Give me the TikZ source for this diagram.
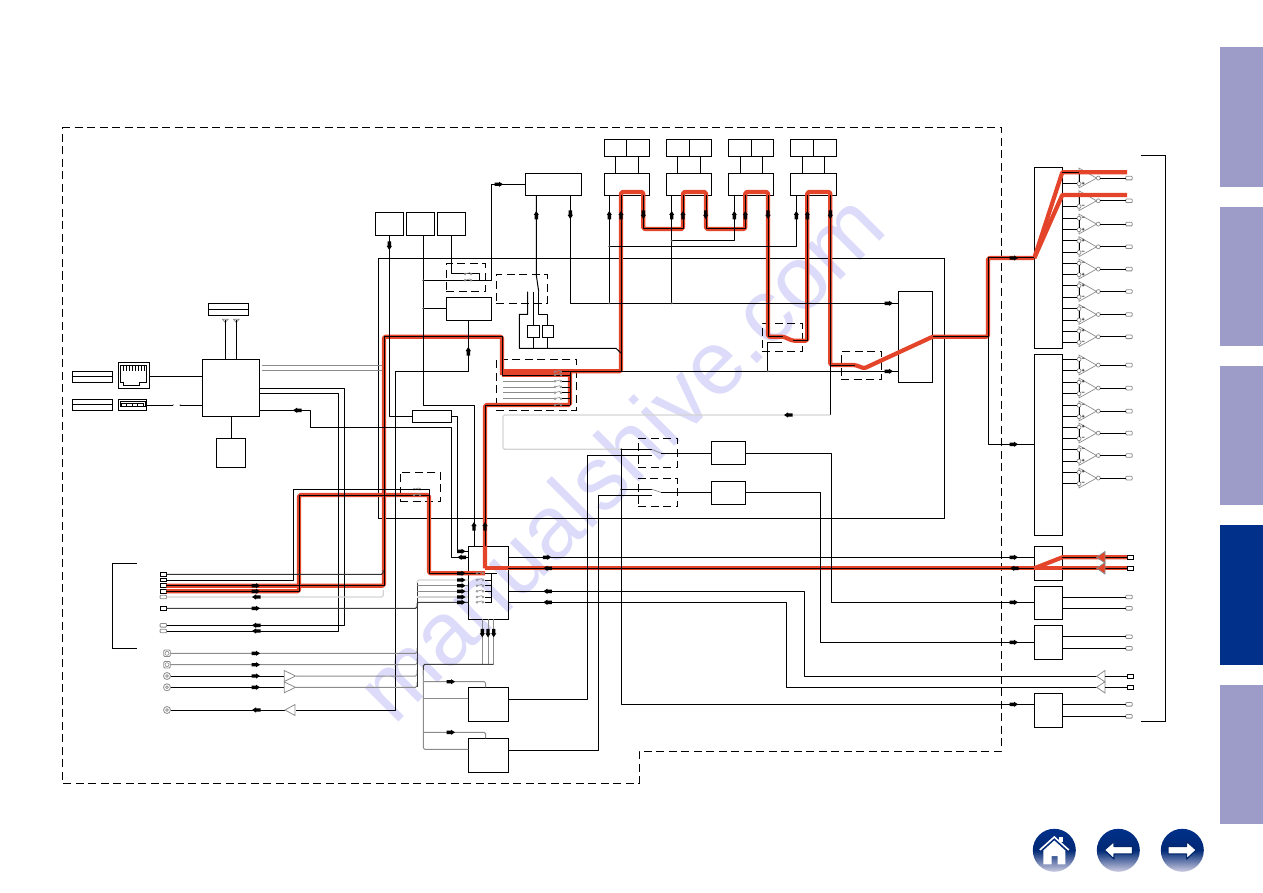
\documentclass[tikz,border=0pt]{standalone}
\usepackage{fontspec}
\setmainfont{Liberation Sans}
\usetikzlibrary{calc}
\definecolor{bandred}{HTML}{E4452A}
\definecolor{lav}{HTML}{9D9BC7}
\definecolor{navy}{HTML}{00308A}
\definecolor{mark}{HTML}{DCDCFA}
\definecolor{gw}{HTML}{8C8C8C}
\definecolor{lgw}{HTML}{D4D4D4}
\tikzset{
  x=1pt,y=-1pt,
  boxn/.style={draw=black,line width=1pt,inner sep=0pt,outer sep=0pt},
  dbox/.style={boxn,line width=.9pt,dash pattern=on 8pt off 4.5pt},
  wire/.style={draw=black,line width=1pt,line join=round},
  gwire/.style={draw=gw,line width=1pt,rounded corners=1.5pt},
  lwire/.style={draw=lgw,line width=1.2pt,rounded corners=1.5pt},
  band/.style={draw=bandred,line width=4.2pt,rounded corners=1.5pt,line join=round},
  term/.style={draw=black,line width=.9pt,fill=white,inner sep=0pt,outer sep=0pt,minimum width=6pt,minimum height=3.6pt},
  termg/.style={draw=gw,line width=.8pt,fill=white,inner sep=0pt,outer sep=0pt,minimum width=6.4pt,minimum height=3.6pt,rounded corners=.8pt},
  pin/.style={circle,draw=gw,line width=.7pt,fill=white,inner sep=0pt,outer sep=0pt,minimum size=4pt},
  coax/.style={circle,draw=gw,line width=.8pt,fill=white,inner sep=0pt,outer sep=0pt,minimum size=7pt},
  optc/.style={draw=gw,line width=.8pt,fill=white,inner sep=0pt,outer sep=0pt,minimum size=6.5pt,rounded corners=1pt},
  sgn/.style={font=\fontsize{5.5}{5.5}\selectfont\bfseries,inner sep=0pt},
  tabn/.style={inner sep=0pt,outer sep=0pt},
  navb/.style={circle,inner sep=0pt,outer sep=0pt,minimum size=43pt,top color=navy,bottom color=lav!50,middle color=navy!85!black}
}
% box given by its two corners
\newcommand\bx[6][boxn]{\node[#1,anchor=north west,minimum width={(#5-#3)*1pt},minimum height={(#6-#4)*1pt}] (#2) at (#3,#4) {};}
% direction mark on a line: x, y, angle
\newcommand\ar[3]{\fill[black,shift={(#1,#2)},rotate=#3] (-4.5,-1.7)--(0,-1.7)--(0,-2.6)--(4,0)--(0,2.6)--(0,1.7)--(-4.5,1.7)--cycle;}
% switch contacts on a line
\newcommand\sw[2]{\draw[gw,line width=.6pt] (#1,#2) circle (1pt) (#1+6,#2) circle (1pt) (#1+1,#2-.3)--(#1+5,#2-1.4);}
% junction dot
\newcommand\jn[2]{\fill[black!70] (#1,#2) circle (1.1pt);}
\begin{document}
\begin{tikzpicture}
\useasboundingbox (0,0) rectangle (1263,893);
\fill[white] (0,0) rectangle (1263,893);
% diagonal site mark
\node[text=mark,font=\fontsize{90}{90}\selectfont,rotate=45,inner sep=0pt,anchor=base] (site) at (642,479) {manualshive.com};

% section tabs
\bx[tabn,fill=lav]{tab1}{1220}{47}{1263}{187}
\bx[tabn,fill=lav]{tab2}{1220}{207}{1263}{346}
\bx[tabn,fill=lav]{tab3}{1220}{366}{1263}{505}
\bx[tabn,fill=navy]{tab4}{1220}{525}{1263}{665}
\bx[tabn,fill=lav]{tab5}{1220}{685}{1263}{824}

% enclosure and brackets
\draw[line width=.9pt,dash pattern=on 8pt off 4.5pt] (62,127) -- (1001,127) -- (1001,751) -- (639,751) -- (639,783) -- (62,783) -- cycle;
\draw[line width=1pt] (1141,156) -- (1165,156) -- (1165,721) -- (1141,721);
\draw[line width=1pt] (137,563.3) -- (112.7,563.3) -- (112.7,648.3) -- (137,648.3);
\bx{frame}{378.7}{258.3}{944}{518.3}

% left network section
\bx{lbA}{208}{303}{248}{315}
\bx{lbB}{72}{371}{112.7}{382.3}
\bx{lbC}{72}{399.3}{112.7}{410.3}
\draw[line width=1pt] (lbA.west) -- (lbA.east) (lbB.west) -- (lbB.east) (lbC.west) -- (lbC.east);
\bx{rj}{118.3}{362.3}{149.7}{388.7}
\draw[line width=.9pt] (120.3,365) -- (146.7,365) -- (146.7,382.7) -- (139,382.7) -- (139,385.7) -- (123.3,385.7) -- (123.3,382.7) -- (120.3,382.7) -- cycle;
\foreach \px in {123,126,129,132,135,138,141,144} \draw[line width=.8pt] (\px,365) -- (\px,370.5);
\bx{usb}{118.3}{399.3}{146.7}{410.3}
\draw[line width=.9pt] (120,401.3) rectangle (145,406);
\foreach \px in {121,126.5,132,137.5} \draw[line width=.6pt,fill=white] (\px,403.6) rectangle (\px+5.5,405.8);
\bx{net}{202.3}{359.3}{259.7}{416.7}
\bx{mem}{216.3}{438.3}{245.7}{467.7}
\coordinate (antA) at (225.3,320);
\coordinate (antB) at (236.3,320);
\foreach \a in {antA,antB} \draw[gw,line width=.8pt] ($(\a)+(-2.8,-.8)$) -- ($(\a)+(2.8,-.8)$) -- ($(\a)+(0,2.5)$) -- cycle;

% top row of boxes
\bx{u1}{375.3}{212.3}{403.7}{235.3}
\bx{u2}{406.3}{212.3}{434.3}{235.3}
\bx{u3}{437.3}{212.3}{465.3}{235.3}
\bx{dsp}{525.3}{173.3}{581.3}{195.3}
\bx{a1}{604.3}{173.3}{649.7}{195.3}
\bx{a2}{666.3}{173.3}{711.7}{195.3}
\bx{a3}{728.3}{173.3}{773.7}{195.3}
\bx{a4}{790.3}{173.3}{836.7}{195.3}
\bx{b1l}{604.3}{139.3}{626.3}{156.3}
\bx{b1r}{626.3}{139.3}{649.7}{156.3}
\bx{b2l}{666.3}{139.3}{689.3}{156.3}
\bx{b2r}{689.3}{139.3}{711.7}{156.3}
\bx{b3l}{728.3}{139.3}{751.3}{156.3}
\bx{b3r}{751.3}{139.3}{773.7}{156.3}
\bx{b4l}{790.3}{139.3}{813.3}{156.3}
\bx{b4r}{813.3}{139.3}{836.7}{156.3}

% centre section
\bx[dbox]{dA}{446.3}{263.7}{485.7}{291.3}
\bx{cpu}{446.3}{297.3}{491.3}{320.3}
\bx[dbox]{dB}{496.3}{274.3}{547.3}{303.3}
\bx{smA}{527.3}{325.3}{539.3}{337.3}
\bx{smB}{542.3}{325.3}{553.7}{337.3}
\bx[dbox]{dC}{496.3}{359.3}{576.7}{410}
\bx{lat}{412.3}{410.3}{451.7}{422.3}
\bx[dbox]{dD}{400}{472.3}{440.7}{501.3}
\bx[dbox]{dE}{762.3}{323.3}{802.3}{351.3}
\bx[dbox]{dF}{841.3}{351.3}{881.7}{379.3}
\bx{dac}{898.3}{291.3}{932.7}{382.3}
\bx[dbox]{dG}{638.3}{438.3}{677.7}{467.3}
\bx[dbox]{dH}{638.3}{478.3}{677.7}{506.7}
\bx{sA}{711.3}{441.3}{745.7}{464.3}
\bx{sB}{711.3}{481.3}{745.7}{504.3}
\bx{hub}{468.3}{546.3}{508.3}{619.3}
\bx{enA}{468.3}{687.3}{508.3}{721.3}
\bx{enB}{468.3}{738.3}{508.3}{772.3}

% right column
\bx{mdA}{1034.3}{167.3}{1062.3}{348.3}
\bx{mdB}{1034.3}{354.3}{1062.3}{535.3}
\bx{rP}{1034.3}{546.3}{1062.3}{580.3}
\bx{rQ}{1034.3}{586.3}{1062.3}{619.3}
\bx{rR}{1034.3}{625.3}{1062.3}{659.3}
\bx{rS}{1034.3}{693.3}{1062.3}{727.3}

% rear input terminals
\node[term] (tL1) at (163.3,574.3) {};
\node[term] (tL2) at (163.3,580) {};
\node[term] (tL3) at (163.3,585.7) {};
\node[term] (tL4) at (163.3,591.3) {};
\node[termg] (tL5) at (163.3,597) {};
\node[term] (tL6) at (163.3,608.3) {};
\node[termg] (tL7) at (163.3,625.3) {};
\node[termg] (tL8) at (163.3,631) {};
\node[optc] (tC1) at (167,653.3) {};
\node[optc] (tC2) at (167,664.7) {};
\node[coax] (tC3) at (167,676) {};
\node[coax] (tC4) at (167,687.3) {};
\node[coax] (tC5) at (167,710) {};
\foreach \c in {tC1,tC2} \draw[gw,line width=.6pt] (\c) circle (2pt);
\foreach \c in {tC3,tC4,tC5} \draw[gw,line width=.7pt] (\c) circle (1.4pt);
\coordinate (busT) at (417.3,580);

% right-hand terminals
\node[term] (tR1) at (1130,557.3) {};
\node[term] (tR2) at (1130,568.3) {};
\node[termg] (tR3) at (1129,597) {};
\node[termg] (tR4) at (1129,608.3) {};
\node[termg] (tR5) at (1129,636.7) {};
\node[termg] (tR6) at (1129,648.3) {};
\node[term] (tR7) at (1130,676.3) {};
\node[term] (tR8) at (1130,687.3) {};
\node[termg] (tR9) at (1129,704.3) {};
\node[termg] (tR10) at (1129,716.3) {};

% output amplifier pairs
\foreach \y/\sa/\sb/\n in {172.3/−/+/a0,195/−/−/a1,218.3/−/+/a2,241/+/−/a3,263.3/−/+/a4,285.7/+/−/a5,308.7/−/+/a6,331/+/−/a7,359.3/−/+/b0,382.3/+/−/b1,405.3/−/+/b2,427.3/+/−/b3,449.7/−/+/b4,472.3/+/−/b5}{
  \pgfmathsetmacro\yb{\y+11.4}
  \pgfmathsetmacro\ym{\y+5.8}
  \pgfmathsetmacro\yt{\y-4.2}
  \pgfmathsetmacro\ye{\yb+4.2}
  \draw[gw,line width=.7pt] (1079,\yt) -- (1096.5,\ym) -- (1079,\ye) -- cycle;
  \node[pin] (pa\n) at (1079,\y) {};
  \node[pin] (pb\n) at (1079,\yb) {};
  \node[pin] (po\n) at (1098.3,\ym) {};
  \node[termg] (ta\n) at (1129,\ym) {};
  \node[sgn] at (1083.3,\y) {\sa};
  \node[sgn] at (1083.3,\yb) {\sb};
  \draw[wire] (mdA.east |- pa\n) -- (pa\n);
  \draw[wire] (mdA.east |- pb\n) -- (pb\n);
  \draw[wire] (pa\n) -- (pb\n);
  \draw[wire] (po\n) -- (ta\n);
}

% highlighted signal route
\coordinate (jR) at (485,568.3);
\coordinate (jS) at (570,371.3);
\fill[bandred] (502,369.3) rectangle (570,377.2);
\draw[band] (tL3.east) -- (384,585.7) -- (384,336.7) -- (502,336.7) -- (502,375);
\draw[band] (tL4.east) -- (299,591.3) -- (299,495) -- (429,495) -- (429,573.3) -- (485,573.3);
\draw[band] (jR) -- (485,405) -- (570,405) -- (jS);
\draw[band] (jR) -- (rP.west |- jR);
\draw[band] (jS) -- (621,371.3) -- (621,192) -- (643.3,192) -- (643.3,229) -- (683,229) -- (683,192) -- (706,192) -- (706,229) -- (745.3,229) -- (745.3,192) -- (768,192) -- (768,336.7) -- (783.3,336.7) -- (792.7,340.7) -- (807.3,340.7) -- (807.3,192) -- (830.3,192) -- (830.3,365) -- (855,365) -- (864.3,368.3) -- (dac.east |- 0,336.7) -- (988,336.7) -- (988,258) -- (mdA.west |- 0,258);
\draw[band,rounded corners=.5pt] (mdA.west |- 0,258) -- (1062.3,172.3) -- (1127,172.3);
\draw[band,rounded corners=.5pt] (mdA.west |- 0,258) -- (1062.3,195) -- (1127,195);
\draw[band,rounded corners=.5pt] (rP.west |- jR) -- (1062.3,557.3) -- (tR1.west);
\draw[band] (rP.west |- jR) -- (tR2.west);

% wires within the highlighted route
\draw[wire] (tL3.east) -- (384,585.7) -- (384,336.7) -- (502,336.7) -- (502,375) -- (570,375);
\draw[wire] (tL4.east) -- (299,591.3) -- (299,495) -- (429,495) -- (429,573.3) -- (480,573.3);
\draw[wire] (hub.north -| 485,0) -- (485,405) -- (570,405);
\draw[wire] (hub.east |- jR) -- (rR.west |- jR);
\draw[wire] (570,371.3) -- (570,405);
\draw[wire] (jS) -- (621,371.3) -- (a1.south -| 621,0);
\draw[wire] (a1.south -| 643.3,0) -- (643.3,229) -- (683,229) -- (a2.south -| 683,0);
\draw[wire] (a2.south -| 706,0) -- (706,229) -- (745.3,229) -- (a3.south -| 745.3,0);
\draw[wire] (a3.south -| 768,0) -- (768,336.7) -- (783.3,336.7);
\draw[wire] (792.7,340.7) -- (807.3,340.7) -- (a4.south -| 807.3,0);
\draw[wire] (a4.south -| 830.3,0) -- (830.3,415);
\draw[wire] (830.3,365) -- (855,365);
\draw[wire] (dac.east |- 0,336.7) -- (988,336.7) -- (988,444.3) -- (mdB.west |- 0,444.3);
\draw[wire] (988,336.7) -- (988,258) -- (mdA.west |- 0,258);
\draw[wire] (1062.3,172.3) -- (1079,172.3);
\draw[wire] (1062.3,557.3) -- (tR1.west);
\draw[wire] (rP.east |- jR) -- (tR2.west);

% network wiring
\draw[wire] (net.north -| antA) -- (antA);
\draw[wire] (net.north -| antB) -- (antB);
\draw[wire] (rj.east |- 0,376.3) -- (net.west |- 0,376.3);
\draw[wire] (usb.east |- 0,405.3) -- (173,405.3);
\draw[wire] (179.5,405.3) -- (net.west |- 0,405.3);
\draw[gw,line width=.7pt] (173,404.3) -- (174,405.3) (179.5,405.3) -- (180.5,404.3);
\draw[wire] (net.south -| mem.north) -- (mem.north);
\draw[gwire] (net.east |- 0,365.3) ++(2,0) -- (382,365.3);
\draw[gwire] (net.east |- 0,370.3) ++(2,0) -- (382,370.3);
\draw[wire] (net.east |- 0,388.7) -- (344.3,388.7) -- (344.3,625.3) -- (tL7.east);
\draw[wire] (net.east |- 0,393.3) -- (338.3,393.3) -- (338.3,631) -- (tL8.east);
\draw[wire] (net.east |- 0,410.3) -- (310.3,410.3) -- (310.3,427) -- (451.7,427) -- (451.7,557.3) -- (hub.west |- 0,557.3);
\draw[wire] (lat.east |- 0,416) -- (457.3,416) -- (457.3,551.3) -- (hub.west |- 0,551.3);
\draw[wire] (u1.south -| 389.3,0) -- (389.3,416.7) -- (lat.west |- 0,416.7);
\draw[wire] (u2.south -| 423.3,0) -- (423.3,405.3) -- (474.7,405.3) -- (hub.north -| 474.7,0);
\draw[wire] (u3.south -| 451.3,0) -- (451.3,274) -- (479.3,274) -- (479.3,280.3);
\draw[wire] (423.3,280.3) -- (491.3,280.3) -- (491.3,184.3) -- (dsp.west |- 0,184.3);
\draw[wire] (423.3,308.3) -- (cpu.west |- 0,308.3);
\draw[wire] (cpu.south -| 468.3,0) -- (468.3,371) -- (395.3,371) -- (395.3,710) -- (296,710);

% source selector and convertor wiring
\draw[wire] (dsp.south -| 536.3,0) -- (536.3,275) -- (538.7,291.7);
\draw[wire] (527.7,291.7) -- (527.7,314.3) -- (519.3,314.3) -- (519.3,348.3) -- (616,348.3) -- (621,353);
\draw[wire] (533.3,291.7) -- (smA.north -| 533.3,0);
\draw[wire] (538.7,291.7) -- (538.7,314.3) -- (547.7,314.3) -- (smB.north -| 547.7,0);
\draw[wire] (smA.south -| 533.3,0) -- (533.3,348.3);
\draw[wire] (smB.south -| 547.7,0) -- (547.7,348.3);
\draw[wire] (dsp.south -| 570.3,0) -- (570.3,303.3) -- (dac.west |- 0,303.3);
\draw[wire] (a1.south -| 609.3,0) -- (609.3,303.3);
\draw[wire] (a2.south -| 671.7,0) -- (671.7,303.3);
\draw[wire] (609.3,246.3) -- (796.3,246.3) -- (a4.south -| 796.3,0);
\draw[wire] (671.7,240.7) -- (734.3,240.7) -- (a3.south -| 734.3,0);
\draw[wire] (621,371.3) -- (dac.west |- 0,371.3);
\draw[wire] (767.7,371.3) -- (767.7,342) -- (782,342);
\draw[lwire] (830.3,415) -- (503,415) -- (503,449.3) -- (620.7,449.3);
\draw[wire] (a1.north -| 615.3,0) -- (b1l.south -| 615.3,0);
\draw[wire] (a1.north -| 638.3,0) -- (b1r.south -| 638.3,0);
\draw[wire] (a2.north -| 677.7,0) -- (b2l.south -| 677.7,0);
\draw[wire] (a2.north -| 700.7,0) -- (b2r.south -| 700.7,0);
\draw[wire] (a3.north -| 740.3,0) -- (b3l.south -| 740.3,0);
\draw[wire] (a3.north -| 762.3,0) -- (b3r.south -| 762.3,0);
\draw[wire] (a4.north -| 802.3,0) -- (b4l.south -| 802.3,0);
\draw[wire] (a4.north -| 824.3,0) -- (b4r.south -| 824.3,0);
\jn{423.3}{280.3}
\jn{423.3}{308.3}
\jn{609.3}{246.3}
\jn{671.7}{240.7}
\jn{609.3}{303.3}
\jn{671.7}{303.3}
\jn{767.7}{371.3}
\jn{621.3}{449.3}
\jn{621.3}{489.3}

% selector fan inside the dashed group
\draw[gwire] (503,381.3) -- (554,381.3);
\draw[gwire] (503,387) -- (554,387);
\draw[gwire] (503,392.7) -- (554,392.7);
\draw[gwire] (503,398.7) -- (554,398.7);
\foreach \yy in {371.7,375,381.3,387,392.7,398.7,405} {\sw{555}{\yy} \draw[wire] (562,\yy) -- (570,\yy);}
\sw{414}{489.3} \sw{414}{495}
\sw{465}{274} \sw{465}{280.3}

% rear input wiring
\draw[draw=black!80,line width=1pt,rounded corners=1.5pt] (tL1.east) -- (383,574.3) -- (383,570);
\draw[wire] (tL2.east) -- (293.3,580) -- (293.3,489.3) -- (429,489.3) -- (429,495);
\draw[lwire] (tL5.east) -- (383.3,597) -- (383.3,590);
\draw[draw=black!75,line width=1pt,rounded corners=1.5pt] (tL6.east) -- (417,608.3) -- (417,602.3) -- (hub.west |- 0,602.3);
\draw[gwire] (tC1.east) -- (417,653.3) -- (417,648);
\draw[gwire] (tC2.east) -- (417,664.7) -- (417,658);
\draw[gwire] (296,676) -- (417,676) -- (417,670);
\draw[gwire] (296,687.3) -- (417,687.3) -- (417,682);
\draw[wire] (tC3.east) -- (284.3,676);
\draw[wire] (tC4.east) -- (284.3,687.3);
\draw[wire] (tC5.east) -- (285,710);
\draw[gw,line width=.8pt,fill=white] (284.3,670.5) -- (295.5,676) -- (284.3,681.5) -- cycle;
\draw[gw,line width=.8pt,fill=white] (284.3,682) -- (295.5,687.3) -- (284.3,692.7) -- cycle;
\draw[gw,line width=.8pt,fill=white] (295,704.5) -- (285,710) -- (295,715.5) -- cycle;
\draw[draw=black!80,line width=1pt] (417,687) -- (417,582);
\draw[lwire] (busT) ++(0,3) -- (417.3,580) -- (hub.west |- 0,580);
\draw[gwire] (417.3,585.7) -- (hub.west |- 0,585.7);
\draw[gwire] (417.3,591.3) -- (hub.west |- 0,591.3);
\draw[lwire] (417.3,597) -- (hub.west |- 0,597);
\foreach \yy in {573.3,580,585.7,591.3,597,602.3} {\sw{477}{\yy} \draw[line width=.9pt] (485,\yy) -- (491.7,\yy);}
\draw[wire] (491.7,573.3) -- (491.7,602.3);
\draw[wire] (491.7,573.3) -- (496.7,573.3);

% encoder feeds under the hub
\draw[gwire] (hub.south -| 482.3,0) -- (482.3,664.3);
\draw[gwire] (hub.south -| 488,0) -- (488,664.3);
\draw[gwire] (hub.south -| 493.7,0) -- (493.7,664.3);
\draw[draw=black!75,line width=1pt,rounded corners=1.5pt] (493.7,664.3) -- (423.3,664.3) -- (423.3,675);
\draw[gwire] (423.3,670) -- (423.3,749.3) -- (enB.west |- 0,749.3);
\draw[gwire] (423.3,681.7) -- (485.7,681.7) -- (enA.north -| 485.7,0);
\draw[gwire] (423.3,698.3) -- (enA.west |- 0,698.3);
\draw[gwire] (423.3,732.3) -- (485.7,732.3) -- (enB.north -| 485.7,0);
\draw[wire] (enA.east |- 0,699.3) -- (587.3,699.3) -- (587.3,455.3) -- (651.7,455.3);
\draw[wire] (enB.east |- 0,750.3) -- (598.7,750.3) -- (598.7,495.3) -- (651.7,495.3);
\draw[wire] (620.7,449.3) -- (651.7,449.3);
\draw[wire] (621.3,449.3) -- (621.3,704.3) -- (rS.west |- 0,704.3);
\draw[wire] (621.3,489.3) -- (651.7,489.3);
\draw[gw,line width=.7pt] (651.7,449.3) -- (661,453.3);
\draw[gw,line width=.7pt] (651.7,489.3) -- (661,492.3);
\draw[wire] (661,453.3) -- (sA.west |- 0,453.3);
\draw[wire] (661,492.3) -- (sB.west |- 0,492.3);
\draw[wire] (sA.east |- 0,453.3) -- (831,453.3) -- (831,602.3) -- (rQ.west |- 0,602.3);
\draw[wire] (sB.east |- 0,492.3) -- (820,492.3) -- (820,642.3) -- (rR.west |- 0,642.3);

% hub to right column
\draw[wire] (hub.east |- 0,557.3) -- (rP.west |- 0,557.3);
\draw[wire] (hub.east |- 0,591.3) -- (804,591.3) -- (804,676.3) -- (1097,676.3);
\draw[wire] (hub.east |- 0,602.3) -- (786,602.3) -- (786,687.3) -- (1097,687.3);
\draw[gw,line width=.8pt,fill=white] (1105,670.5) -- (1096.7,676.3) -- (1105,682) -- cycle;
\draw[gw,line width=.8pt,fill=white] (1105,681.7) -- (1096.7,687.3) -- (1105,693) -- cycle;
\draw[wire] (1105,676.3) -- (tR7.west);
\draw[wire] (1105,687.3) -- (tR8.west);
\draw[wire] (rQ.east |- tR3) -- (tR3.west);
\draw[wire] (rQ.east |- tR4) -- (tR4.west);
\draw[wire] (rR.east |- tR5) -- (tR5.west);
\draw[wire] (rR.east |- tR6) -- (tR6.west);
\draw[wire] (rS.east |- tR9) -- (tR9.west);
\draw[wire] (rS.east |- tR10) -- (tR10.west);
\draw[gw,line width=.8pt,fill=bandred] (1105,551.5) -- (1096.7,557.3) -- (1105,563) -- cycle;
\draw[gw,line width=.8pt,fill=bandred] (1105,562.5) -- (1096.7,568.3) -- (1105,574) -- cycle;

% direction marks
\ar{297}{410.3}{180}
\ar{389.3}{246}{270}
\ar{468.3}{351}{90}
\ar{499}{184.3}{0}
\ar{536.3}{215}{90}
\ar{570.3}{215}{270}
\foreach \ax in {609.3,621,671.7,683,734.3,745.3,796.3,807.3} {\ar{\ax}{215}{90}}
\foreach \ax in {643.3,705.7,768,830.3} {\ar{\ax}{215}{270}}
\ar{889}{303.3}{0}
\ar{889}{371.3}{0}
\ar{788}{415}{180}
\ar{1014}{258}{0}
\ar{1014}{444.3}{0}
\foreach \yy in {585.7,591.3,608.3,653.3,664.7,676,687.3} {\ar{256}{\yy}{0}}
\foreach \yy in {597,625.3,631,710} {\ar{256}{\yy}{180}}
\ar{474}{526}{90}
\ar{485}{526}{90}
\foreach \yy in {551.3,573.3,580,585.7,591.3,597,602.3} {\ar{461.5}{\yy}{0}}
\ar{461.5}{557.3}{180}
\ar{547.3}{557.3}{0}
\foreach \yy in {568.3,591.3,602.3} {\ar{547.3}{\yy}{180}}
\foreach \ax in {482.3,488,493.7} {\ar{\ax}{633.3}{270}}
\ar{451}{681.7}{0}
\ar{451}{732.3}{0}
\ar{1014}{557.3}{0}
\ar{1014}{568.3}{180}
\ar{1014}{602.3}{0}
\ar{1014}{642.3}{0}
\ar{1014}{704.3}{0}

% navigation buttons
\node[navb] (home) at (1054.3,850.3) {};
\node[navb] (back) at (1118.3,850.3) {};
\node[navb] (next) at (1182.3,850.3) {};
\fill[white] (1043.3,850.5) -- (1054.3,840.5) -- (1065.3,850.5) -- (1065.3,864.3) -- (1057.7,864.3) -- (1057.7,856) -- (1051.7,856) -- (1051.7,864.3) -- (1043.3,864.3) -- cycle;
\draw[white,line width=1.6pt] (1039.8,850) -- (1054.3,837) -- (1068.8,850);
\fill[white] (1058.5,836.5) rectangle (1063,842);
\draw[line width=1.2pt,fill=white,line join=round,draw=navy!80!black] (1104.3,850) -- (1114,841.5) -- (1114,846.5) -- (1132.5,846.5) -- (1132.5,854) -- (1114,854) -- (1114,859) -- cycle;
\draw[line width=1.2pt,fill=white,line join=round,draw=navy!80!black] (1196.3,850) -- (1186.6,841.5) -- (1186.6,846.5) -- (1168.1,846.5) -- (1168.1,854) -- (1186.6,854) -- (1186.6,859) -- cycle;
\end{tikzpicture}
\end{document}
